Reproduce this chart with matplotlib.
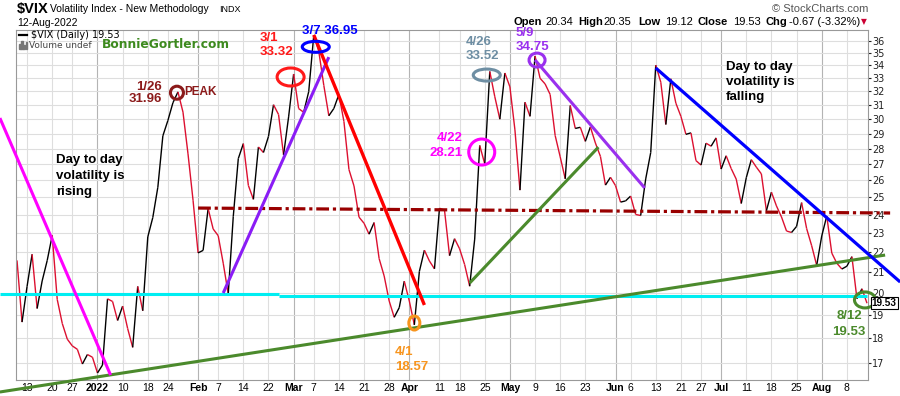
import numpy as np
import pandas as pd
import matplotlib
matplotlib.use("Agg")
import matplotlib.pyplot as plt
import matplotlib.transforms as mtransforms
from matplotlib.collections import LineCollection
from matplotlib.patches import Ellipse, Rectangle
from matplotlib.lines import Line2D

# trading days only, stockcharts drops weekends + holidays from the axis
holidays = ["2021-12-24", "2022-01-17", "2022-02-21", "2022-04-15",
            "2022-05-30", "2022-06-20", "2022-07-04"]

# $VIX daily closes, 9-Dec-2021 .. 12-Aug-2022
closes_dec = [21.58, 18.69, 20.31, 21.89, 19.29, 20.57, 21.57, 22.87, 19.70, 18.63,
              17.96, 17.68, 17.54, 16.95, 17.33, 17.22]
closes_jan = [16.60, 16.91, 19.73, 19.61, 18.76, 19.40, 18.41, 17.62, 20.31, 19.19,
              22.79, 23.85, 25.59, 28.85, 29.90, 31.16, 31.96, 30.49, 27.66, 24.83]
closes_feb = [21.96, 22.09, 24.35, 23.22, 22.86, 21.44, 19.96, 23.91, 27.36, 28.33,
              25.70, 24.88, 28.11, 27.75, 28.81, 31.02, 30.32, 27.59, 30.15]
closes_mar = [33.32, 30.74, 30.48, 31.98, 36.45, 35.13, 32.45, 30.23, 30.75, 31.77,
              29.83, 26.67, 25.67, 23.87, 23.53, 22.94, 23.57, 21.67, 20.81, 19.63,
              18.90, 19.33, 20.56]
closes_apr = [19.63, 18.57, 21.03, 22.10, 21.55, 21.16, 24.37, 24.26, 21.82, 22.70,
              22.17, 21.37, 20.32, 22.68, 28.21, 27.02, 33.52, 31.60, 29.99, 33.40]
closes_may = [32.34, 29.25, 25.42, 31.20, 30.19, 34.75, 32.99, 32.56, 31.77, 28.87,
              27.47, 26.10, 30.96, 29.35, 29.43, 28.48, 29.45, 28.37, 27.50, 25.72, 26.19]
closes_jun = [25.69, 24.72, 24.79, 25.07, 24.02, 23.96, 26.09, 27.75, 34.02, 32.69,
              29.62, 32.95, 31.13, 30.19, 28.95, 29.05, 27.23, 26.95, 28.36, 28.16, 28.71]
closes_jul = [26.70, 27.54, 26.73, 26.08, 24.64, 26.17, 27.29, 26.82, 26.40, 24.23,
              25.30, 24.50, 23.88, 23.11, 23.03, 23.36, 24.69, 23.24, 22.33, 21.33]
closes_aug = [22.84, 23.93, 21.95, 21.44, 21.15, 21.29, 21.77, 19.74, 20.20, 19.53]

# x axis ticks (date, label)
tick_dates = ["2021-12-13", "2021-12-20", "2021-12-27", "2022-01-03", "2022-01-10",
              "2022-01-18", "2022-01-24", "2022-02-01", "2022-02-07", "2022-02-14",
              "2022-02-22", "2022-03-01", "2022-03-07", "2022-03-14", "2022-03-21",
              "2022-03-28", "2022-04-01", "2022-04-11", "2022-04-18", "2022-04-25",
              "2022-05-02", "2022-05-09", "2022-05-16", "2022-05-23", "2022-06-01",
              "2022-06-06", "2022-06-13", "2022-06-21", "2022-06-27", "2022-07-01",
              "2022-07-11", "2022-07-18", "2022-07-25", "2022-08-01", "2022-08-08"]
tick_labels = ["13", "20", "27", "2022", "10", "18", "24", "Feb", "7", "14", "22",
               "Mar", "7", "14", "21", "28", "Apr", "11", "18", "25", "May", "9", "16",
               "23", "Jun", "6", "13", "21", "27", "Jul", "11", "18", "25", "Aug", "8"]
y_ticks = list(range(17, 37))

# hand drawn trendlines, (bar index, value) at both ends
magenta_line = ([-3.4, 18.6], [30.07, 16.52])
purple_line1 = ([41.0, 62.0], [20.0, 34.66])
red_line = ([59.0, 81.0], [36.5, 19.45])
green_long = ([-3.4, 172.6], [15.88, 21.85])
green_short = ([90.0, 115.6], [20.47, 28.1])
purple_line2 = ([103.0, 124.8], [34.43, 25.55])
blue_line = ([127.0, 175.6], [33.79, 20.52])
support_24 = ([36.0, 173.6], [24.38, 24.10])
cyan_a = ([-3.4, 52.0], [19.94, 19.94])
cyan_b = ([52.0, 169.0], [19.87, 19.87])

# circled spots (bar index, value)
circle_x = [31.8, 54.4, 59.4, 79.0, 92.4, 93.4, 103.4, 168.6]
circle_y = [31.9, 33.09, 35.5, 18.65, 27.78, 33.24, 34.42, 19.68]

W, H = 900, 396
closes = np.array(closes_dec + closes_jan + closes_feb + closes_mar + closes_apr +
                  closes_may + closes_jun + closes_jul + closes_aug)
dates = pd.bdate_range("2021-12-09", "2022-08-12", freq="C", holidays=holidays)
x = np.arange(len(dates))
tick_pos = [dates.get_loc(pd.Timestamp(d)) for d in tick_dates]

fig = plt.figure(figsize=(W / 100, H / 100), dpi=100)
ax = fig.add_axes([16 / W, 1 - 380 / H, 852 / W, 350 / H])
ax.set_yscale("log")

# grid first
for p, lab in zip(tick_pos, tick_labels):
    month = not lab.isdigit() or lab == "2022"
    ax.axvline(p, color="#b4b4b4" if month else "#dedede", lw=0.8, zorder=0)
for v in y_ticks:
    ax.axhline(v, color="#dedede", lw=0.8, zorder=0)

# price line, black on up days, red on down days
segs = [[(x[i - 1], closes[i - 1]), (x[i], closes[i])] for i in range(1, len(x))]
cols = ["#000000" if closes[i] >= closes[i - 1] else "#dc1030" for i in range(1, len(x))]
ax.add_collection(LineCollection(segs, colors=cols, linewidths=1.0, zorder=2))

def trend(line, color, lw=2.3, ls="-"):
    ax.plot(line[0], line[1], color=color, lw=lw, ls=ls, clip_on=False,
            solid_capstyle="butt", zorder=3)

trend(cyan_a, "#00eef2", lw=2.2)
trend(cyan_b, "#00eef2", lw=2.2)
trend(support_24, "#990000", lw=2.3, ls=(0, (4, 1.2, 1, 1.2)))
trend(green_long, "#4b8a2c", lw=2.2)
trend(green_short, "#4b8a2c", lw=2.2)
trend(magenta_line, "#ff00ff", lw=2.2)
trend(purple_line1, "#8a1cf5", lw=2.2)
trend(purple_line2, "#9a30ee", lw=2.2)
trend(red_line, "#ff0000", lw=2.4)
trend(blue_line, "#0000ff", lw=2.3)

# ellipses sized in pixels, anchored at data points
circle_w = [13, 27, 27, 11, 26, 27, 16, 21]
circle_h = [13, 18, 11, 14, 26, 12, 14, 16]
circle_c = ["#8b1a1a", "#ff1a1a", "#0000ff", "#f7941d", "#ff00ff", "#6e8ea3",
            "#9a30ee", "#4b8a2c"]
for cx, cy, w, h, c in zip(circle_x, circle_y, circle_w, circle_h, circle_c):
    tr = fig.dpi_scale_trans + mtransforms.ScaledTranslation(cx, cy, ax.transData)
    e = Ellipse((0, 0), w / 100, h / 100, transform=tr, fill=False, ec=c, lw=2.2,
                zorder=4)
    e.set_clip_on(False)
    ax.add_artist(e)

ax.set_xlim(-0.2, len(x) - 0.8)
ax.set_ylim(16.33, 36.92)

ax.set_xticks(tick_pos)
ax.set_xticklabels(tick_labels)
for t, lab in zip(ax.get_xticklabels(), tick_labels):
    t.set_family("Liberation Sans")
    t.set_fontsize(7.5)
    if not lab.isdigit() or lab == "2022":
        t.set_fontweight("bold")
ax.set_yticks(y_ticks)
ax.set_yticklabels([str(v) for v in y_ticks])
ax.yaxis.set_minor_locator(matplotlib.ticker.NullLocator())
ax.yaxis.set_minor_formatter(matplotlib.ticker.NullFormatter())
ax.tick_params(axis="x", length=0, pad=2)
ax.tick_params(axis="y", left=False, labelleft=False, right=True, labelright=True,
               length=2, pad=1, labelsize=7, colors="#222222")
for s in ax.spines.values():
    s.set_color("#999999")
    s.set_linewidth(0.8)

# last value box on the right axis
bt = mtransforms.blended_transform_factory(ax.transAxes, ax.transData)
ax.text(1.0045, closes[-1], f"{closes[-1]:.2f}", transform=bt, ha="left", va="center",
        fontsize=7.2, fontweight="bold", family="Liberation Sans", zorder=6,
        bbox=dict(boxstyle="square,pad=0.1", fc="white", ec="black", lw=0.8))


def ftext(px, py, s, **kw):
    kw.setdefault("va", "center")
    kw.setdefault("family", "Liberation Sans")
    fig.text(px / W, 1 - py / H, s, **kw)


# header
ftext(17, 9, "$VIX", fontsize=10.5, fontweight="bold")
ftext(50, 9.5, "Volatility Index - New Methodology", fontsize=7.5)
ftext(219, 9.5, "INDX", fontsize=6.5)
ftext(17, 23, "12-Aug-2022", fontsize=7.5)
ftext(868, 9, "\u00a9 StockCharts.com", fontsize=8, ha="right", color="#555555")
ohlc = [(513, "Open", True), (545, "20.34", False), (578, "High", True),
        (603, "20.35", False), (638, "Low", True), (665, "19.12", False),
        (698, "Close", True), (733, "19.53", False), (766, "Chg", True),
        (789, "-0.67 (-3.32%)", False)]
for px, s, b in ohlc:
    ftext(px, 22, s, fontsize=8, fontweight="bold" if b else "normal")
ftext(861, 22, "\u25bc", fontsize=5.5, color="#cc0033", family="DejaVu Sans")

# legend block inside the chart
fig.add_artist(Line2D([19 / W, 27 / W], [1 - 35 / H, 1 - 35 / H], color="black", lw=1.6))
ftext(31, 35, "$VIX (Daily) 19.53", fontsize=7, family="DejaVu Sans")
for i, hh in enumerate([5, 8, 4, 7]):
    fig.add_artist(Rectangle(((19 + i * 2.2) / W, 1 - 49 / H), 1.5 / W, hh / H,
                             color="#777777", transform=fig.transFigure))
ftext(29, 45, "Volume undef", fontsize=6.5, family="DejaVu Sans", color="#444444")
ftext(102, 45, "BonnieGortler.com", fontsize=8.8, family="DejaVu Sans",
      fontweight="bold", color="#3d8a1e")

# notes on the chart
bold = dict(fontweight="bold", fontsize=9.5)
ftext(162, 87, "1/26", ha="right", color="#8b1a1a", **bold)
ftext(162, 99, "31.96", ha="right", color="#8b1a1a", **bold)
ftext(184, 92, "PEAK", ha="left", color="#8b1a1a", fontweight="bold", fontsize=8.5)
ftext(260, 38, "3/1", color="#ff1a1a", **bold)
ftext(260, 52, "33.32", color="#ff1a1a", **bold)
ftext(302, 31, "3/7 36.95", color="#0000ff", **bold)
ftext(466, 42, "4/26", color="#6e8ea3", **bold)
ftext(466, 56, "33.52", color="#6e8ea3", **bold)
ftext(516, 33, "5/9", color="#9a30ee", **bold)
ftext(516, 47, "34.75", color="#9a30ee", **bold)
ftext(463, 138, "4/22", ha="right", color="#ff00ff", **bold)
ftext(463, 153, "28.21", ha="right", color="#ff00ff", **bold)
ftext(395, 352, "4/1", color="#f7941d", **bold)
ftext(395, 367, "18.57", color="#f7941d", **bold)
ftext(849, 316, "8/12", ha="center", color="#4b8a2c", **bold)
ftext(849, 332, "19.53", ha="center", color="#4b8a2c", **bold)
for py, s in zip([160, 176, 192], ["Day to day", "volatility is", "rising"]):
    ftext(56, py, s, **bold)
for py, s in zip([67, 82, 97], ["Day to day", "volatility is", "falling"]):
    ftext(726, py, s, **bold)

fig.savefig("out.png", dpi=100)
